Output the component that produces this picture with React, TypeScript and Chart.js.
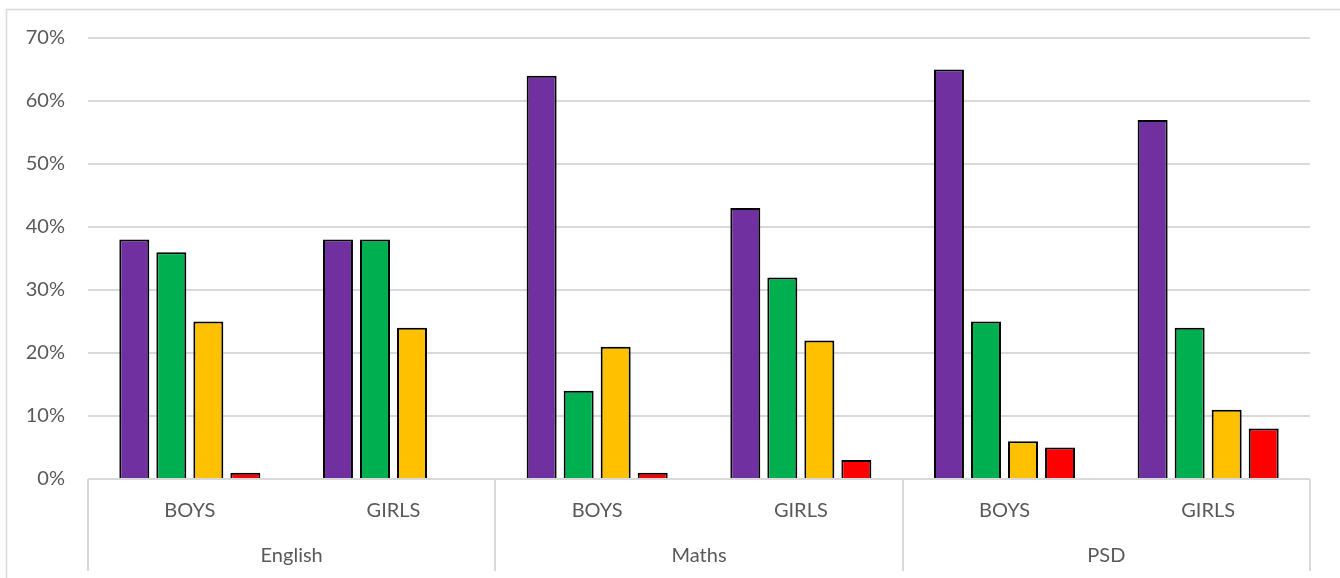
import React, { useEffect, useRef } from "react";
import { Chart, registerables } from "chart.js";

Chart.register(...registerables);

const categories = ["BOYS", "GIRLS", "BOYS", "GIRLS", "BOYS", "GIRLS"];
const groups = ["English", "Maths", "PSD"];
const series1 = [38, 38, 64, 43, 65, 57];
const series2 = [36, 38, 14, 32, 25, 24];
const series3 = [25, 24, 21, 22, 6, 11];
const series4 = [1, null, 1, 3, 5, 8];
const seriesNames = ["Series 1", "Series 2", "Series 3", "Series 4"];
const seriesColors = ["#7030A0", "#00B050", "#FFC000", "#FF0000"];
const yTicks = [0, 10, 20, 30, 40, 50, 60, 70];

const FONT = "Lato, 'Open Sans', sans-serif";
const TEXT = "#595959";
const LINE = "#d9d9d9";

const groupPlugin = {
  id: "groupAxis",
  afterDraw(chart: any) {
    const { ctx, chartArea } = chart;
    const n = categories.length;
    const per = n / groups.length;
    ctx.save();
    ctx.strokeStyle = LINE;
    ctx.lineWidth = 2;
    const step = (chartArea.right - chartArea.left) / n;
    for (let g = 0; g <= groups.length; g++) {
      const xx = Math.round(chartArea.left + g * per * step);
      ctx.beginPath();
      ctx.moveTo(xx, chartArea.bottom);
      ctx.lineTo(xx, 571);
      ctx.stroke();
    }
    ctx.fillStyle = TEXT;
    ctx.font = `20px ${FONT}`;
    ctx.textAlign = "center";
    ctx.textBaseline = "middle";
    groups.forEach((g, i) => {
      const cx = chartArea.left + (i * per + per / 2) * step;
      ctx.fillText(g, cx, 556);
    });
    // outer chart border
    ctx.strokeStyle = LINE;
    ctx.lineWidth = 1.5;
    ctx.beginPath();
    ctx.moveTo(6.5, 600);
    ctx.lineTo(6.5, 9.5);
    ctx.lineTo(1400, 9.5);
    ctx.stroke();
    ctx.restore();
  },
};

export default function App() {
  const ref = useRef<HTMLCanvasElement>(null);
  useEffect(() => {
    if (!ref.current) return;
    const data = [series1, series2, series3, series4];
    const chart = new Chart(ref.current, {
      type: "bar",
      data: {
        labels: categories,
        datasets: data.map((d, i) => ({
          label: seriesNames[i],
          data: d as any,
          backgroundColor: seriesColors[i],
          borderColor: "#000000",
          borderWidth: 2,
          categoryPercentage: 0.727,
          barPercentage: 0.81,
        })),
      },
      options: {
        animation: false,
        responsive: false,
        maintainAspectRatio: false,
        layout: { padding: { top: 38, right: 30, left: 0, bottom: 0 } },
        plugins: { legend: { display: false }, tooltip: { enabled: false } },
        scales: {
          x: {
            grid: { display: false, drawTicks: false },
            border: { display: false },
            ticks: { color: TEXT, font: { family: FONT, size: 20 }, padding: 20, maxRotation: 0, autoSkip: false },
            afterFit: (s: any) => { s.height = 99; },
          },
          y: {
            min: 0,
            max: 70,
            afterBuildTicks: (s: any) => { s.ticks = yTicks.map((v) => ({ value: v })); },
            grid: { color: LINE, lineWidth: 2, drawTicks: false },
            border: { display: false },
            ticks: {
              color: TEXT,
              font: { family: FONT, size: 20 },
              padding: 23,
              callback: (v: any) => `${v}%`,
            },
            afterFit: (s: any) => { s.width = 88; },
          },
        },
      },
      plugins: [groupPlugin],
    });
    return () => chart.destroy();
  }, []);
  return (
    <div style={{ position: "fixed", left: 0, top: 0, width: 1340, height: 578, background: "#fff" }}>
      <canvas ref={ref} width={1340} height={578} style={{ display: "block" }} />
    </div>
  );
}
